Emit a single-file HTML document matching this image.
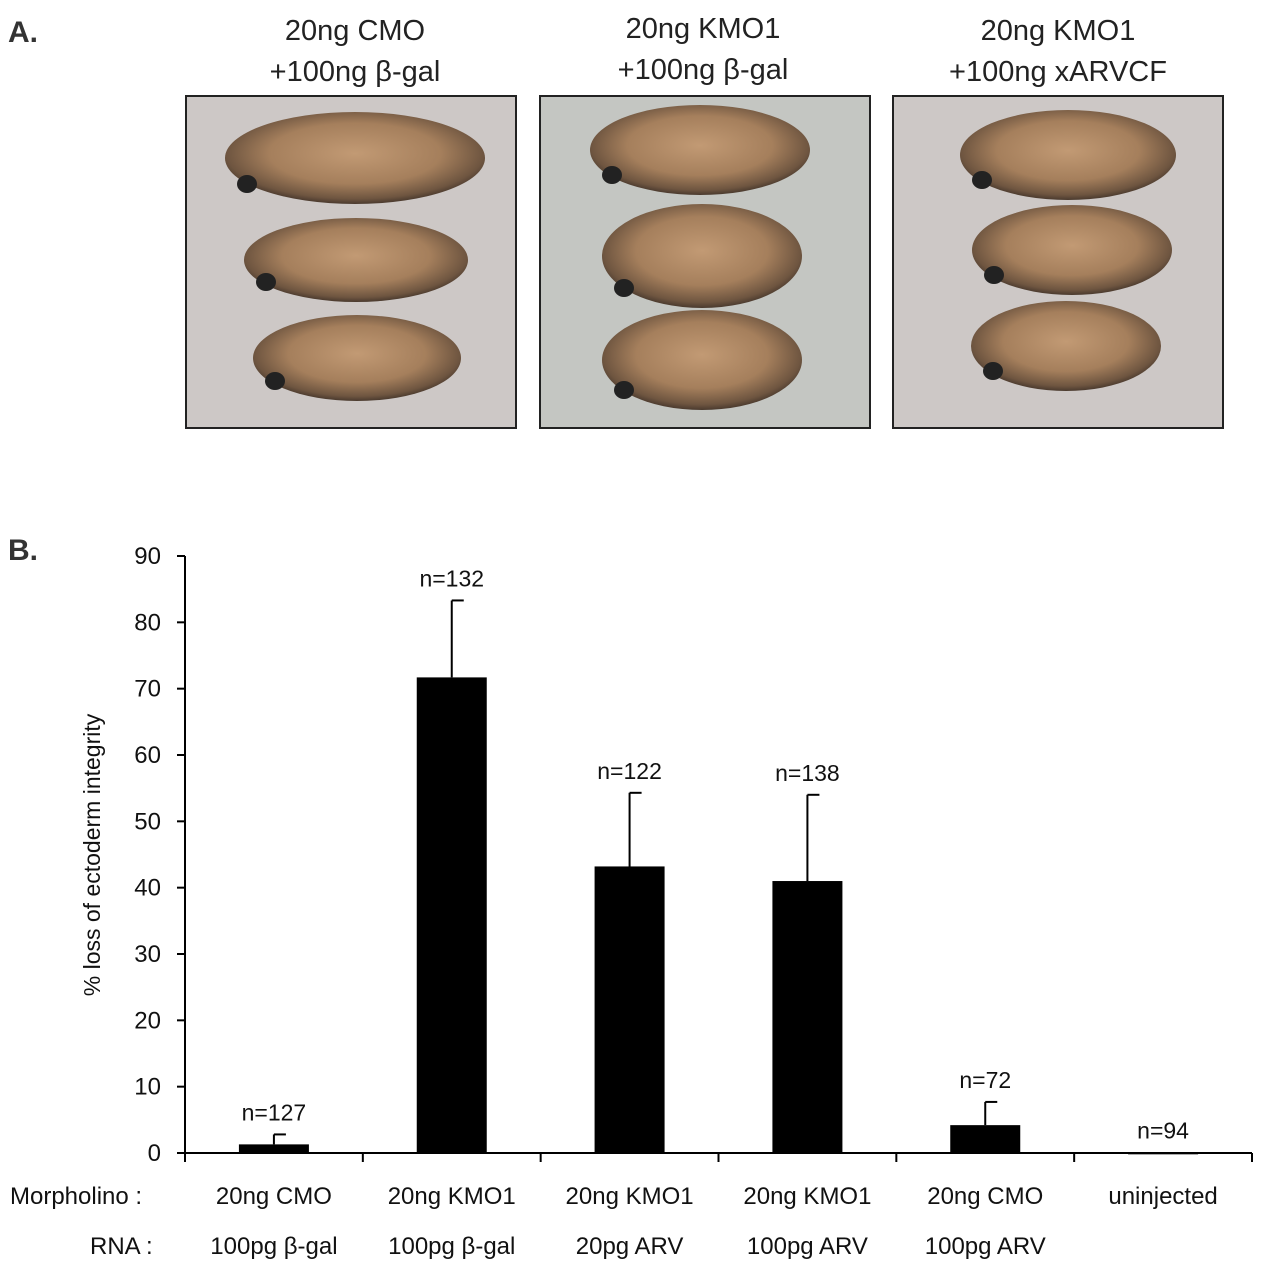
<!DOCTYPE html>
<html><head><meta charset="utf-8"><style>
html,body{margin:0;padding:0;background:#fff;}
svg{display:block;font-family:"Liberation Sans",sans-serif;}
</style></head><body>
<svg id="fig" width="1268" height="1280" viewBox="0 0 1268 1280">
<defs>
<radialGradient id="emb" cx="50%" cy="45%" r="55%">
<stop offset="0" stop-color="#c29a74"/><stop offset="0.6" stop-color="#a57f5c"/><stop offset="0.9" stop-color="#6e5540"/><stop offset="1" stop-color="#4a3a2e"/>
</radialGradient>
</defs>
<text x="8" y="42" font-size="30" font-weight="bold" fill="#333">A.</text>
<text x="8" y="560" font-size="30" font-weight="bold" fill="#333">B.</text>
<g font-size="29" fill="#222" text-anchor="middle">
<text x="355" y="40">20ng CMO</text><text x="355" y="81">+100ng β-gal</text>
<text x="703" y="38">20ng KMO1</text><text x="703" y="79">+100ng β-gal</text>
<text x="1058" y="40">20ng KMO1</text><text x="1058" y="81">+100ng xARVCF</text>
</g>
<g id="photos"></g>
<g id="chart"></g>
</svg>
<script>
const categories=["20ng CMO","20ng KMO1","20ng KMO1","20ng KMO1","20ng CMO","uninjected"];
const rnaLabels=["100pg β-gal","100pg β-gal","20pg ARV","100pg ARV","100pg ARV",""];
const values=[1.3,71.7,43.2,41.0,4.2,0.1];
const errors=[1.5,11.6,11.1,13.0,3.5,0];
const nLabels=["n=127","n=132","n=122","n=138","n=72","n=94"];
const yTicks=[0,10,20,30,40,50,60,70,80,90];
const NS="http://www.w3.org/2000/svg";
function mk(t,a,p){const e=document.createElementNS(NS,t);for(const k in a)e.setAttribute(k,a[k]);p.appendChild(e);return e;}
const ph=document.getElementById('photos');
const panels=[[186,[[355,158,130,46],[356,260,112,42],[357,358,104,43]]],[540,[[700,150,110,45],[702,256,100,52],[702,360,100,50]]],[893,[[1068,155,108,45],[1072,250,100,45],[1066,346,95,45]]]];
panels.forEach((p,i)=>{
 const r=mk('rect',{x:p[0],y:96,width:330,height:332,fill:i==1?'#c4c6c2':'#cdc8c6',stroke:'#222','stroke-width':2},ph);
 
 
 p[1].forEach((e,j)=>{
  const el=mk('ellipse',{cx:e[0],cy:e[1],rx:e[2],ry:e[3],fill:'url(#emb)'},ph);
  
  
  mk('ellipse',{cx:e[0]-e[2]+22,cy:e[1]+e[3]-20,rx:10,ry:9,fill:'#222'},ph);
 });
});
const g=document.getElementById('chart');
const x0=185,x1=1252,y0=1153,yTop=556,ymax=90;
const y=v=>y0-(v/ymax)*(y0-yTop);
const bw=(x1-x0)/categories.length;
const xc=i=>x0+bw*(i+0.5);
mk('line',{x1:x0,y1:yTop,x2:x0,y2:y0,stroke:'#000','stroke-width':2},g);
mk('line',{x1:x0,y1:y0,x2:x1,y2:y0,stroke:'#000','stroke-width':2},g);
yTicks.forEach(t=>{
 mk('line',{x1:x0-8,y1:y(t),x2:x0,y2:y(t),stroke:'#000','stroke-width':2},g);
 const tx=mk('text',{x:x0-24,y:y(t)+8,'font-size':24,'text-anchor':'end',fill:'#111'},g);tx.textContent=t;
 
 
});
for(let i=0;i<=categories.length;i++)mk('line',{x1:x0+bw*i,y1:y0,x2:x0+bw*i,y2:y0+9,stroke:'#000','stroke-width':2},g);
const yt=mk('text',{x:100,y:855,'font-size':23,'text-anchor':'middle',transform:'rotate(-90 100 855)',fill:'#111'},g);
yt.textContent='% loss of ectoderm  integrity';


values.forEach((v,i)=>{
 const c=xc(i);
 const e=errors[i];
 if(e>0){mk('line',{x1:c,y1:y(v),x2:c,y2:y(v+e),stroke:'#000','stroke-width':2},g);
  mk('line',{x1:c,y1:y(v+e),x2:c+12,y2:y(v+e),stroke:'#000','stroke-width':2},g);}
 const b=mk('rect',{x:c-35,y:y(v),width:70,height:Math.max(2,y0-y(v)),fill:'#000'},g);
 
 
 const n=mk('text',{x:c,y:y(v+e)-14,'font-size':23,'text-anchor':'middle',fill:'#111'},g);n.textContent=nLabels[i];
 
 
 const m=mk('text',{x:c,y:1204,'font-size':24,'text-anchor':'middle',fill:'#111'},g);m.textContent=categories[i];
 
 
 const r=mk('text',{x:c,y:1254,'font-size':24,'text-anchor':'middle',fill:'#111'},g);r.textContent=rnaLabels[i];
 
 
});
const ml=mk('text',{x:10,y:1204,'font-size':24,fill:'#111'},g);ml.textContent='Morpholino :';


const rl=mk('text',{x:90,y:1254,'font-size':24,fill:'#111'},g);rl.textContent='RNA :';


</script>
</body></html>
